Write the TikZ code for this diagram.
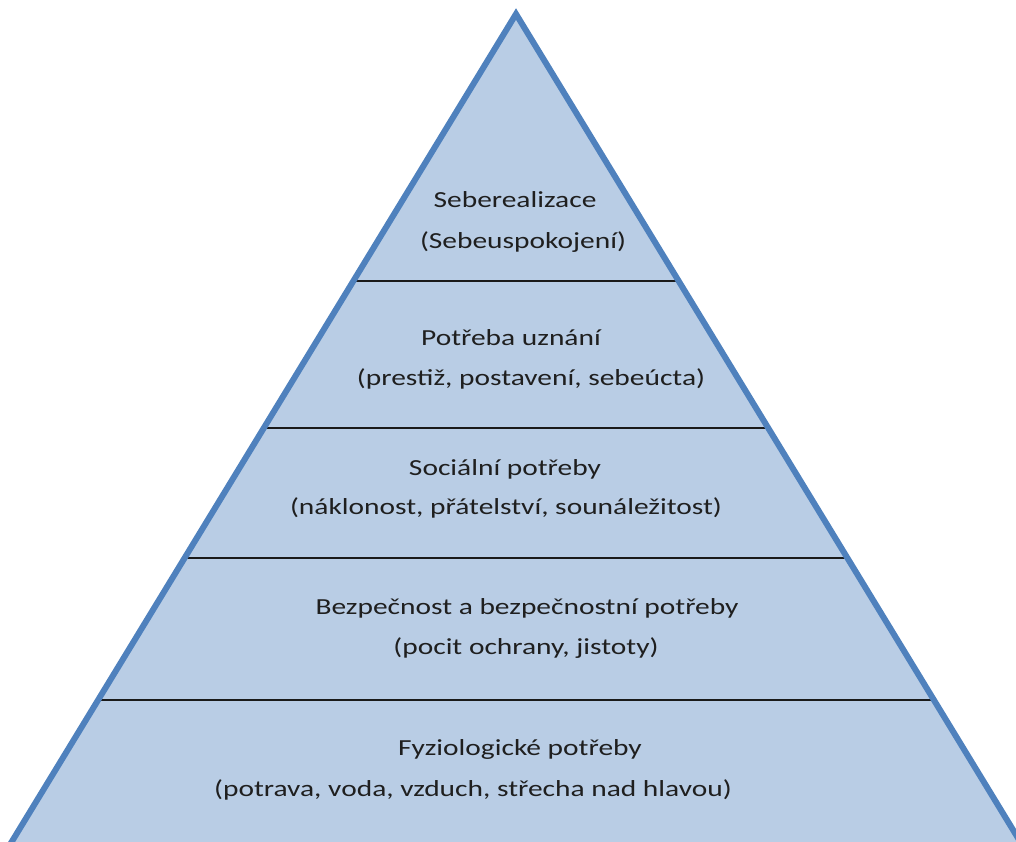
\documentclass[tikz,border=0pt]{standalone}
\usepackage{fontspec}
\setmainfont{Carlito}[FakeStretch=1.28]
\definecolor{pyrfill}{HTML}{B9CDE5}
\definecolor{pyredge}{HTML}{4F81BD}
\definecolor{sepline}{HTML}{1A1A1A}
\begin{document}
\begin{tikzpicture}[x=1pt,y=-1pt,
  lbl/.style={anchor=base,inner sep=0pt,font=\fontsize{23}{27}\selectfont,text=black!88},
  sep/.style={draw=sepline,line width=2pt}]
\useasboundingbox (0,0) rectangle (1016,841);
\coordinate (apex) at (516,14);
\coordinate (bl) at (-14,884);
\coordinate (br) at (1046,884);
\begin{scope}
\clip (0,0) rectangle (1016,841);
\fill[pyrfill] (apex) -- (bl) -- (br) -- cycle;
\begin{scope}
\clip (apex) -- (bl) -- (br) -- cycle;
\foreach \n/\y in {a/281,b/428,c/558,d/700}{
  \coordinate (L\n) at (0,\y);
  \coordinate (R\n) at (1016,\y);
  \draw[sep] (L\n) -- (R\n);
}
\end{scope}
\draw[pyredge,line width=6pt,line join=miter] (bl) -- (apex) -- (br);
\end{scope}
\node[lbl] (t1a) at (515,207) {Seberealizace};
\node[lbl] (t1b) at (523,248) {(Sebeuspokojení)};
\node[lbl] (t2a) at (511,345) {Potřeba uznání};
\node[lbl] (t2b) at (531,385) {(prestiž, postavení, sebeúcta)};
\node[lbl] (t3a) at (505,475) {Sociální potřeby};
\node[lbl] (t3b) at (506,514) {(náklonost, přátelství, sounáležitost)};
\node[lbl] (t4a) at (527,614) {Bezpečnost a bezpečnostní potřeby};
\node[lbl] (t4b) at (526,654) {(pocit ochrany, jistoty)};
\node[lbl] (t5a) at (520,755) {Fyziologické potřeby};
\node[lbl] (t5b) at (473,796) {(potrava, voda, vzduch, střecha nad hlavou)};
\end{tikzpicture}
\end{document}
